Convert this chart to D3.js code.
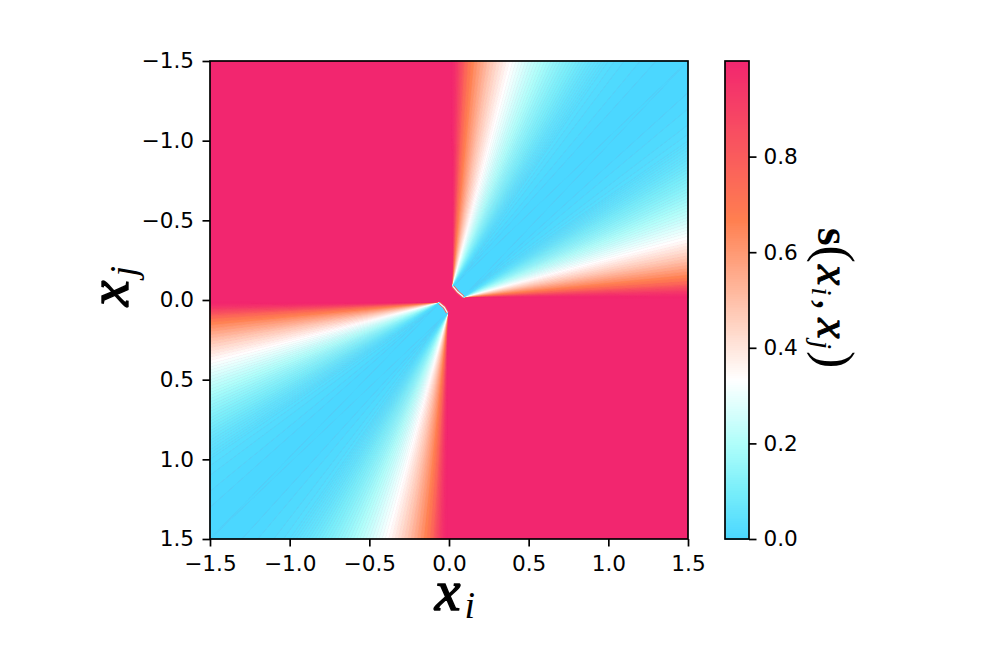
<!DOCTYPE html>
<html>
<head>
<meta charset="utf-8">
<script src="https://cdn.jsdelivr.net/npm/d3@7"></script>
<style>
html, body { margin: 0; padding: 0; background: #fff; }
svg { display: block; }
.tick text { font-family: "DejaVu Sans", sans-serif; font-size: 21.6px; fill: #000; }
.math { font-family: "Liberation Serif", serif; font-style: italic; fill: #000; }
</style>
</head>
<body>
<svg id="chart" width="996" height="656"></svg>
<script>
// values: distance from the axis along the top and
// right edges of the first quadrant, and the similarity seen there
var edgeDist = [0.01, 0.02, 0.03, 0.04, 0.05, 0.06, 0.07, 0.08, 0.09, 0.10,
  0.12, 0.14, 0.16, 0.18, 0.20, 0.22, 0.24, 0.26, 0.28, 0.30, 0.32, 0.34, 0.36,
  0.38, 0.40, 0.42, 0.44, 0.46, 0.48, 0.50, 0.52, 0.54, 0.56, 0.58, 0.60, 0.62,
  0.64, 0.66, 0.68, 0.70, 0.72, 0.74, 0.76, 0.78, 0.80, 0.82, 0.84, 0.86, 0.88,
  0.90, 0.92, 0.94, 0.96, 0.98, 1.00, 1.04, 1.10, 1.20, 1.30, 1.50];
var edgeSim = [1.0, 0.995, 0.985, 0.965, 0.94, 0.91, 0.88, 0.85, 0.82, 0.79,
  0.72, 0.68, 0.64, 0.605, 0.575, 0.545, 0.515, 0.485, 0.46, 0.435, 0.41, 0.39, 0.365,
  0.345, 0.325, 0.31, 0.295, 0.28, 0.265, 0.25, 0.235, 0.222, 0.21, 0.197, 0.185, 0.173,
  0.161, 0.15, 0.14, 0.13, 0.12, 0.111, 0.103, 0.095, 0.087, 0.078, 0.07, 0.063, 0.056,
  0.05, 0.045, 0.04, 0.035, 0.031, 0.027, 0.022, 0.015, 0.008, 0.004, 0.0];
// corners of the small notch next to the origin, first and third quadrant
var notchFirst = [[0.025, -0.085], [0.055, -0.05], [0.09, -0.02]];
var notchThird = [[-0.01, 0.08], [-0.03, 0.045], [-0.06, 0.02]];

var xTicks = [-1.5, -1.0, -0.5, 0.0, 0.5, 1.0, 1.5];
var barTicks = [0.0, 0.2, 0.4, 0.6, 0.8];
var colorStops = [0, 0.1, 0.2, 1 / 3, 2 / 3, 1];
var colorRange = ["#4ad7ff", "#78eefa", "#b0fefa", "#ffffff", "#ff7f50", "#f2266f"];

var svg = d3.select("#chart");
var plot = { left: 210, right: 688, top: 61, bottom: 539 };
var bar = { left: 725, right: 749 };

var x = d3.scaleLinear().domain([-1.5, 1.5]).range([plot.left, plot.right]);
var y = d3.scaleLinear().domain([-1.5, 1.5]).range([plot.top, plot.bottom]);
var barY = d3.scaleLinear().domain([0, 1]).range([plot.bottom, plot.top]);
var color = d3.scaleLinear().domain(colorStops).range(colorRange);

var line = d3.line().x(function(d) { return x(d[0]); }).y(function(d) { return y(d[1]); });

// Heatmap: pink background, then fans of thin strips in the two blue quadrants
var heat = svg.append("g");
heat.append("rect")
  .attr("x", plot.left).attr("y", plot.top)
  .attr("width", plot.right - plot.left).attr("height", plot.bottom - plot.top)
  .attr("fill", color(1));

function strip(pts, s, sign) {
  var flipped = pts.map(function(p) { return [p[0] * sign, p[1] * sign]; });
  heat.append("path")
    .attr("d", line(flipped) + "Z")
    .attr("fill", color(s))
    .attr("stroke", color(s))
    .attr("stroke-width", 0.7);
}

// the plot is point symmetric around the origin, sign -1 draws the third quadrant
[1, -1].forEach(function(sign) {
  var notch = sign > 0 ? notchFirst : notchThird.map(function(p) { return [-p[0], -p[1]]; });
  var apexTop = notch[0], apexRight = notch[2];
  for (var i = 0; i < edgeDist.length - 1; i++) {
    var s = (edgeSim[i] + edgeSim[i + 1]) / 2;
    strip([apexTop, [edgeDist[i], -1.5], [edgeDist[i + 1], -1.5]], s, sign);
    strip([apexRight, [1.5, -edgeDist[i]], [1.5, -edgeDist[i + 1]]], s, sign);
  }
  strip([apexTop, [1.5, -1.5], apexRight, notch[1]], 0, sign);

  // light rim along the notch
  var rim = notch.map(function(p) { return [p[0] * sign, p[1] * sign]; });
  heat.append("path").attr("d", line(rim)).attr("fill", "none")
    .attr("stroke", color(0.8)).attr("stroke-width", 3).attr("stroke-linejoin", "round");
  heat.append("path").attr("d", line(rim)).attr("fill", "none")
    .attr("stroke", color(0.3)).attr("stroke-width", 1.2).attr("stroke-linejoin", "round");
});

// Axes
function styleAxis(g) {
  g.selectAll(".domain").remove();
  g.selectAll(".tick line").attr("stroke", "#000").attr("stroke-width", 1.7);
}
var fmt = function(d) { return d3.format(".1f")(d).replace("-", "\u2212"); };

svg.append("g")
  .attr("transform", "translate(0," + plot.bottom + ")")
  .call(d3.axisBottom(x).tickValues(xTicks).tickFormat(fmt).tickSize(7.5).tickPadding(9))
  .call(styleAxis);
svg.append("g")
  .attr("transform", "translate(" + plot.left + ",0)")
  .call(d3.axisLeft(y).tickValues(xTicks).tickFormat(fmt).tickSize(7.5).tickPadding(8.5))
  .call(styleAxis);

svg.append("rect")
  .attr("x", plot.left).attr("y", plot.top)
  .attr("width", plot.right - plot.left).attr("height", plot.bottom - plot.top)
  .attr("fill", "none").attr("stroke", "#000").attr("stroke-width", 1.7);

// Colorbar
var barSteps = d3.range(0, 1, 1 / 256);
svg.append("g").attr("shape-rendering", "crispEdges").selectAll("rect")
  .data(barSteps)
  .enter().append("rect")
  .attr("x", bar.left)
  .attr("y", function(d) { return barY(d + 1 / 256); })
  .attr("width", bar.right - bar.left)
  .attr("height", function(d) { return barY(d) - barY(d + 1 / 256) + 1; })
  .attr("fill", function(d) { return color(d); });
svg.append("rect")
  .attr("x", bar.left).attr("y", plot.top)
  .attr("width", bar.right - bar.left).attr("height", plot.bottom - plot.top)
  .attr("fill", "none").attr("stroke", "#000").attr("stroke-width", 1.7);
svg.append("g")
  .attr("transform", "translate(" + bar.right + ",0)")
  .call(d3.axisRight(barY).tickValues(barTicks).tickFormat(d3.format(".1f")).tickSize(7.5).tickPadding(7))
  .call(styleAxis);

// Labels
function mathLabel(tx, ty, rot, parts) {
  var t = svg.append("text")
    .attr("class", "math")
    .attr("transform", "translate(" + tx + "," + ty + ") rotate(" + rot + ")")
    .attr("text-anchor", "middle");
  parts.forEach(function(p) {
    var sp = t.append("tspan").text(p.text).attr("font-size", p.size)
      .attr("dy", p.dy || 0).attr("dx", p.dx || 0);
    if (p.bold) sp.style("stroke", "#000").style("stroke-width", p.bold);
    if (p.upright) sp.style("font-style", "normal").style("font-weight", "bold");
    if (p.paren) sp.style("font-style", "normal");
  });
}
mathLabel(455, 610, 0, [
  { text: "x", size: 58, bold: 1.4 },
  { text: "i", size: 38, dy: 8, dx: 4 }
]);
mathLabel(128, 286, -90, [
  { text: "x", size: 58, bold: 1.4 },
  { text: "j", size: 38, dy: 8, dx: 4 }
]);
mathLabel(818, 298, 90, [
  { text: "s", size: 46, upright: true },
  { text: "(", size: 52, paren: true },
  { text: "x", size: 46, bold: 1, dx: 2 },
  { text: "i", size: 30, dy: 6, dx: 2 },
  { text: ",", size: 46, paren: true, dy: -6, dx: 3 },
  { text: "x", size: 46, bold: 1, dx: 8 },
  { text: "j", size: 30, dy: 6, dx: 2 },
  { text: ")", size: 52, paren: true, dy: -6, dx: 2 }
]);
</script>
</body>
</html>
